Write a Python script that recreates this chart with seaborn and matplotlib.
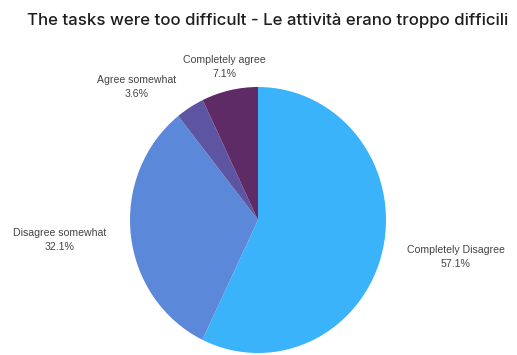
import matplotlib
matplotlib.use("Agg")
import matplotlib.pyplot as plt
import seaborn as sns

categories = ["Completely Disagree", "Disagree somewhat", "Agree somewhat", "Completely agree"]
values = [57.1, 32.1, 3.6, 7.1]
colors = ["#3BB3FB", "#5B88D8", "#5E55A2", "#5E2B66"]
title = "The tasks were too difficult - Le attività erano troppo difficili"

sns.set_theme(style="white")
plt.rcParams["font.family"] = ["Liberation Sans", "DejaVu Sans"]

W, H = 517, 355
fig = plt.figure(figsize=(W / 100, H / 100), dpi=100)
fig.patch.set_facecolor("white")

# pie axes in pixel layout (slightly elliptical like reference)
cx, cy, rx, ry = 258, 220, 128, 133
ax = fig.add_axes([(cx - rx) / W, 1 - (cy + ry) / H, 2 * rx / W, 2 * ry / H])
ax.pie(values, colors=colors, startangle=90, counterclock=False,
       wedgeprops=dict(linewidth=0), radius=1.0)
ax.set_aspect("auto")
ax.set_xlim(-1, 1)
ax.set_ylim(-1, 1)
ax.axis("off")

# label centres in pixels (layout)
label_pos = [(456, 257), (60, 240), (137, 87), (224, 67)]
for cat, v, (px, py) in zip(categories, values, label_pos):
    fig.text(px / W, 1 - py / H, f"{cat}\n{v:.1f}%", ha="center", va="center",
             fontsize=7.6, color="#444444", linespacing=1.45)

fig.text(268 / W, 1 - 20 / H, title, ha="center", va="center",
         fontsize=12.1, color="#1e1e1e", fontweight="medium",
         family=["Inter", "DejaVu Sans"])

fig.savefig("out.png", dpi=100, facecolor="white")
